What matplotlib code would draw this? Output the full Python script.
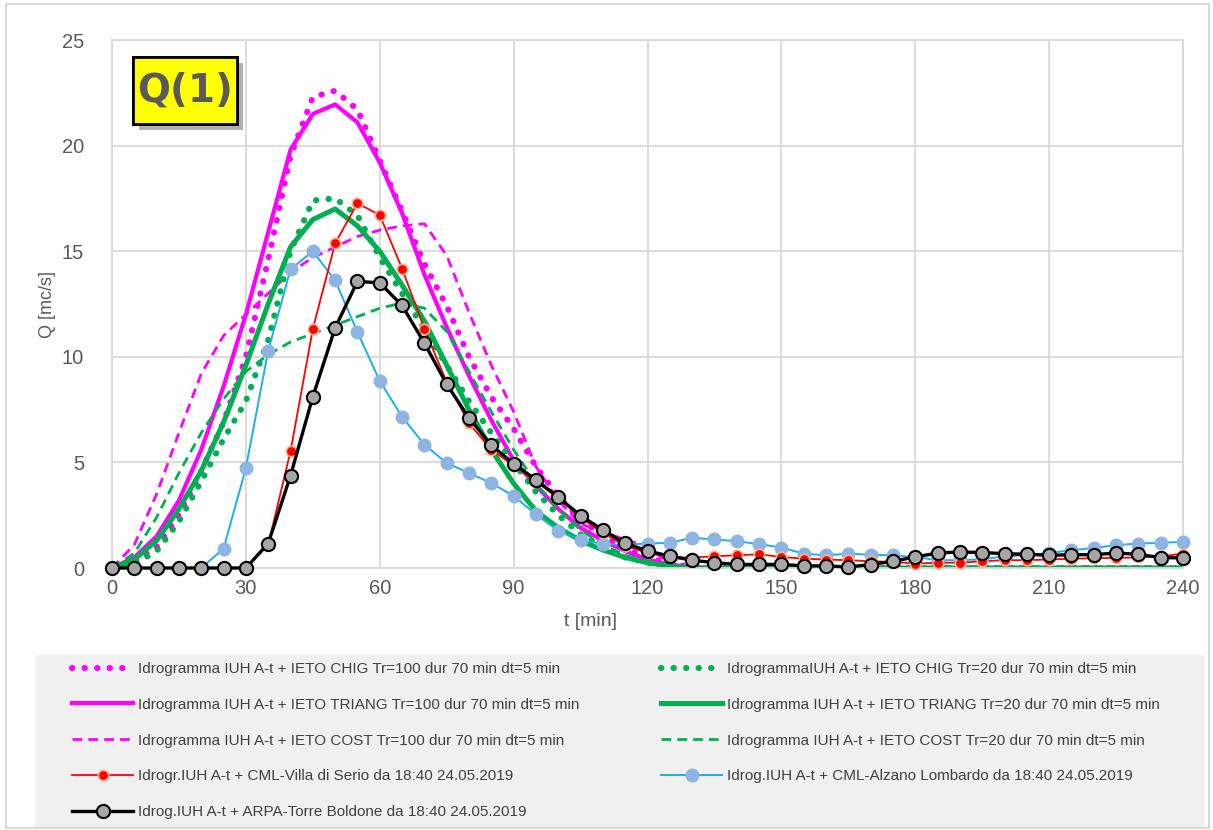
import matplotlib
matplotlib.use("Agg")
import matplotlib.pyplot as plt
import matplotlib.patheffects as pe
from matplotlib import font_manager
from matplotlib.patches import Rectangle

# time axis [min], 5 min step
t = list(range(0, 245, 5))

# model hydrographs (Tr=100)
chig_100 = [0, 0.3, 1.0, 2.5, 4.6, 6.9, 10.0, 14.6, 19.5, 22.3, 22.6, 21.7, 19.3, 16.9, 14.4, 12.4,
            10.0, 8.1, 6.6, 4.8, 3.4, 2.3, 1.5, 0.9, 0.5, 0.2, 0.05, 0, 0, 0, 0, 0, 0, 0, 0, 0,
            0, 0, 0, 0, 0, 0, 0, 0, 0, 0, 0, 0, 0]
triang_100 = [0, 0.5, 1.5, 3.2, 5.6, 8.6, 12.0, 15.9, 19.8, 21.5, 21.95, 21.1, 19.2, 16.8, 13.9, 11.4,
              9.1, 7.0, 5.1, 3.9, 2.8, 1.9, 1.3, 0.8, 0.4, 0.15, 0.05, 0, 0, 0, 0, 0, 0, 0, 0, 0,
              0, 0, 0, 0, 0, 0, 0, 0, 0, 0, 0, 0, 0]
cost_100 = [0, 1.1, 3.5, 6.4, 9.2, 11.0, 12.0, 13.0, 14.0, 14.7, 15.2, 15.7, 16.0, 16.2, 16.3, 14.8,
            12.1, 9.6, 7.4, 4.8, 3.2, 2.1, 1.7, 1.35, 1.0, 0.2, 0, 0, 0, 0, 0, 0, 0, 0, 0, 0,
            0, 0, 0, 0, 0, 0, 0, 0, 0, 0, 0, 0, 0]

# model hydrographs (Tr=20)
chig_20 = [0, 0.2, 0.8, 2.2, 4.1, 6.1, 7.9, 10.8, 15.0, 17.4, 17.5, 16.7, 14.7, 13.0, 11.3, 9.6,
           7.9, 6.4, 5.0, 3.6, 2.5, 1.6, 1.0, 0.5, 0.25, 0.05, 0, 0, 0, 0, 0, 0, 0, 0, 0, 0,
           0, 0, 0, 0, 0, 0, 0, 0, 0, 0, 0, 0, 0]
triang_20 = [0, 0.4, 1.3, 2.8, 4.6, 6.9, 9.6, 12.5, 15.2, 16.5, 17.0, 16.2, 15.0, 13.4, 11.7, 9.6,
             7.5, 5.6, 4.0, 2.7, 1.9, 1.3, 0.85, 0.5, 0.25, 0.08, 0, 0, 0, 0, 0, 0, 0, 0, 0, 0,
             0, 0, 0, 0, 0, 0, 0, 0, 0, 0, 0, 0, 0]
cost_20 = [0, 0.7, 2.4, 4.5, 6.4, 8.0, 9.3, 10.1, 10.7, 11.1, 11.5, 11.9, 12.3, 12.55, 12.3, 11.2,
           9.3, 7.4, 5.6, 4.0, 2.8, 1.8, 1.1, 0.6, 0.3, 0.1, 0, 0, 0, 0, 0, 0, 0, 0, 0, 0,
           0, 0, 0, 0, 0, 0, 0, 0, 0, 0, 0, 0, 0]

# hydrographs from rain gauges / CML
villa = [0, 0, 0, 0, 0, 0, 0, 1.1, 5.52, 11.32, 15.37, 17.27, 16.71, 14.18, 11.33, 8.8,
         6.85, 5.6, 4.85, 4.1, 3.3, 2.4, 1.65, 1.05, 0.71, 0.52, 0.49, 0.56, 0.6, 0.65, 0.52, 0.44,
         0.4, 0.37, 0.32, 0.29, 0.21, 0.25, 0.25, 0.32, 0.37, 0.37, 0.4, 0.44, 0.46, 0.48, 0.5, 0.55, 0.68]
alzano = [0, 0, 0, 0, 0, 0.92, 4.73, 10.29, 14.14, 15.0, 13.62, 11.17, 8.86, 7.16, 5.84, 4.97,
          4.5, 4.02, 3.41, 2.54, 1.76, 1.33, 1.14, 1.1, 1.16, 1.19, 1.43, 1.35, 1.27, 1.13, 0.97, 0.68,
          0.6, 0.68, 0.63, 0.6, 0.52, 0.37, 0.37, 0.41, 0.55, 0.6, 0.71, 0.84, 0.95, 1.08, 1.16, 1.19, 1.24]
arpa = [0, 0, 0, 0, 0, 0, 0, 1.16, 4.37, 8.11, 11.37, 13.57, 13.5, 12.43, 10.65, 8.7,
        7.11, 5.81, 4.94, 4.18, 3.35, 2.48, 1.8, 1.17, 0.81, 0.56, 0.37, 0.25, 0.17, 0.17, 0.17, 0.1,
        0.1, 0.05, 0.16, 0.32, 0.52, 0.71, 0.76, 0.73, 0.68, 0.65, 0.6, 0.63, 0.63, 0.71, 0.65, 0.49, 0.48]

labels = [
    "Idrogramma IUH A-t + IETO CHIG Tr=100 dur 70 min dt=5 min",
    "Idrogramma IUH A-t + IETO TRIANG Tr=100 dur 70 min dt=5 min",
    "Idrogramma IUH A-t + IETO COST Tr=100 dur 70 min dt=5 min",
    "Idrogr.IUH A-t + CML-Villa di Serio da 18:40 24.05.2019",
    "Idrog.IUH A-t + ARPA-Torre Boldone da 18:40 24.05.2019",
    "IdrogrammaIUH A-t + IETO CHIG Tr=20 dur 70 min dt=5 min",
    "Idrogramma IUH A-t + IETO TRIANG Tr=20 dur 70 min dt=5 min",
    "Idrogramma IUH A-t + IETO COST Tr=20 dur 70 min dt=5 min",
    "Idrog.IUH A-t + CML-Alzano Lombardo da 18:40 24.05.2019",
]

names = {f.name for f in font_manager.fontManager.ttflist}
font = "Liberation Sans Narrow" if "Liberation Sans Narrow" in names else "Liberation Sans"
narrow = font == "Liberation Sans Narrow"

W, H = 1213, 830
fig = plt.figure(figsize=(W / 100, H / 100), dpi=100)
ax = fig.add_axes([112 / W, 1 - 568 / H, (1183 - 112) / W, (568 - 40) / H])

MAG = "#ff00ff"
GRN = "#00b050"
dot = (0, (0.05, 2.0))
dash = (0, (3.5, 2.2))

l1, = ax.plot(t, chig_100, color=MAG, lw=4.4, linestyle=dot, dash_capstyle="round")
l2, = ax.plot(t, triang_100, color=MAG, lw=3.0)
l3, = ax.plot(t, cost_100, color=MAG, lw=2.0, linestyle=dash)
l6, = ax.plot(t, chig_20, color=GRN, lw=4.4, linestyle=dot, dash_capstyle="round")
l7, = ax.plot(t, triang_20, color=GRN, lw=3.6)
l8, = ax.plot(t, cost_20, color=GRN, lw=2.0, linestyle=dash)
l9, = ax.plot(t, alzano, color="#1ab0ec", lw=1.4, marker="o", ms=9, mfc="#8db4e2",
              mec="#8db4e2", clip_on=False, zorder=4)
l4, = ax.plot(t, villa, color="#ff0000", lw=1.3, marker="o", ms=7.5, mfc="#ff0000",
              mec="#ffb48a", mew=1.2, clip_on=False, zorder=5)
l5, = ax.plot(t, arpa, color="black", lw=2.4, marker="o", ms=9.5, mfc="#a6a6a6",
              mec="black", mew=1.5, clip_on=False, zorder=6)

ax.set_xlim(0, 240)
ax.set_ylim(0, 25)
ax.set_xticks(range(0, 241, 30))
ax.set_yticks(range(0, 26, 5))
ax.grid(True, color="#d9d9d9", lw=1.3)
ax.set_axisbelow(True)
for s in ax.spines.values():
    s.set_color("#d9d9d9")
    s.set_linewidth(1.3)
ax.tick_params(length=0, labelsize=15 if narrow else 14.5, labelcolor="#595959")
ax.tick_params(axis="y", pad=20)
ax.tick_params(axis="x", pad=8)
for lab in ax.get_xticklabels() + ax.get_yticklabels():
    lab.set_fontfamily(font)

fig.text(590 / W, 1 - 621 / H, "t [min]", ha="center", va="center", fontsize=14,
         color="#595959", family=font)
fig.text(47 / W, 1 - 305 / H, "Q [mc/s]", ha="center", va="center", rotation=90,
         fontsize=13, color="#595959", family=font)

# label box (yellow with shadow)
box = Rectangle((0.0196, 0.8409), 0.0971, 0.1269, transform=ax.transAxes, facecolor="#ffff00",
                edgecolor="black", lw=2, zorder=7)
box.set_path_effects([pe.withSimplePatchShadow(offset=(4, -4), shadow_rgbFace="#808080", alpha=0.6),
                      pe.Normal()])
ax.add_patch(box)
ax.text(0.0682, 0.9043, "Q(1)", transform=ax.transAxes, ha="center", va="center", fontsize=28,
        fontweight="bold", color="#595959", zorder=8)

# legend background and outer border
fig.add_artist(Rectangle((35 / W, 2 / H), 1170 / W, 650 / H - 477 / H, transform=fig.transFigure,
                         facecolor="#f0f0f0", edgecolor="none", zorder=0))
fig.add_artist(Rectangle((6 / W, 2 / H), 1203 / W, 824 / H, transform=fig.transFigure,
                         facecolor="none", edgecolor="#d9d9d9", lw=1.5, zorder=0))

leg_kw = dict(loc="upper left", frameon=False, handlelength=4.0, handletextpad=0.3,
              labelspacing=1.42, borderaxespad=0, prop={"family": font, "size": 11.5 if narrow else 11})
leg1 = fig.legend([l1, l2, l3, l4, l5], labels[:5], bbox_to_anchor=(66 / W, 1 - 656 / H), **leg_kw)
leg2 = fig.legend([l6, l7, l8, l9], labels[5:], bbox_to_anchor=(655 / W, 1 - 656 / H), **leg_kw)
for lg in (leg1, leg2):
    for tx in lg.get_texts():
        tx.set_color("#404040")

fig.savefig("out.png", dpi=100)
